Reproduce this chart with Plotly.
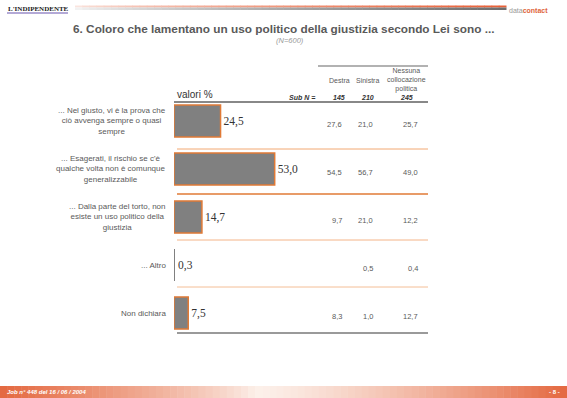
import plotly.graph_objects as go

W, H = 567, 398

# ---------------- data ----------------
categories = [
    "... Nel giusto, vi è la prova che<br>ciò avvenga sempre o quasi<br>sempre",
    "... Esagerati, il rischio se c'è<br>qualche volta non è comunque<br>generalizzabile",
    "... Dalla parte del torto, non<br>esiste un uso politico della<br>giustizia",
    "... Altro",
    "Non dichiara",
]
totale = [24.5, 53.0, 14.7, 0.3, 7.5]
destra = [27.6, 54.5, 9.7, None, 8.3]
sinistra = [21.0, 56.7, 21.0, 0.5, 1.0]
nessuna = [25.7, 49.0, 12.2, 0.4, 12.7]
sub_n = [145, 210, 245]
column_labels = ["Destra", "Sinistra", "Nessuna<br>collocazione<br>politica"]

title = "6. Coloro che lamentano un uso politico della giustizia secondo Lei sono ..."
subtitle = "(N=600)"
footer_left = "Job n° 448 del 16 / 06 / 2004"
footer_right = "- 8 -"


def fmt(v):
    return "" if v is None else f"{v:.1f}".replace(".", ",")


def X(px):
    return px / W


def Y(py):
    return 1 - py / H


SANS = "Liberation Sans, Arial, sans-serif"
SERIF = "Liberation Serif, Times New Roman, serif"

rows = list(range(len(categories)))
# outline only where the bar is wide enough to show it
outline_w = [1.5 if v >= 1 else 0 for v in totale]

fig = go.Figure()
fig.add_trace(go.Bar(
    x=totale, y=rows, orientation="h",
    marker=dict(color="#808080", line=dict(color="#E07A36", width=outline_w)),
    width=0.67,
    text=[fmt(v) for v in totale], textposition="outside",
    textfont=dict(family=SERIF, size=11.5, color="#333333"),
    constraintext="none", cliponaxis=False, hoverinfo="skip",
))

fig.update_layout(
    width=W, height=H, autosize=False,
    margin=dict(l=0, r=0, t=0, b=0),
    paper_bgcolor="white", plot_bgcolor="rgba(0,0,0,0)",
    showlegend=False,
    xaxis=dict(domain=[X(174), X(428)], range=[0, 254 / 1.9], visible=False, fixedrange=True),
    yaxis=dict(domain=[Y(337), Y(97)], range=[len(rows) - 0.5, -0.5], visible=False, fixedrange=True),
)

ann = []
shapes = []

# category labels
for i, c in enumerate(categories):
    ann.append(dict(x=X(168), y=i, xref="paper", yref="y", text=c, showarrow=False,
                    xanchor="right", yanchor="middle", align="center",
                    font=dict(family=SANS, size=8, color="#5A5A5A")))

# table values
cols = [(destra, 344), (sinistra, 375), (nessuna, 420)]
for series, xr in cols:
    for i, v in enumerate(series):
        if v is None:
            continue
        ann.append(dict(x=X(xr), y=i, xref="paper", yref="y", text=fmt(v), showarrow=False,
                        xanchor="right", yanchor="middle", yshift=-3,
                        font=dict(family=SANS, size=7.5, color="#5A5A5A")))

# column headers
hdr_x = [339, 367, 406]
for lbl, xc in zip(column_labels, hdr_x):
    ann.append(dict(x=X(xc), y=Y(80), xref="paper", yref="paper", text=lbl, showarrow=False,
                    xanchor="center", yanchor="middle", align="center",
                    font=dict(family=SANS, size=7, color="#5A5A5A")))
for n, xc in zip(sub_n, hdr_x):
    ann.append(dict(x=X(xc), y=Y(97), xref="paper", yref="paper", text=f"<b><i>{n}</i></b>",
                    showarrow=False, xanchor="center", yanchor="middle",
                    font=dict(family=SANS, size=7, color="#333333")))
ann.append(dict(x=X(317), y=Y(97), xref="paper", yref="paper", text="<b><i>Sub N =</i></b>",
                showarrow=False, xanchor="right", yanchor="middle",
                font=dict(family=SANS, size=7, color="#333333")))
ann.append(dict(x=X(175), y=Y(95), xref="paper", yref="paper", text="valori %",
                showarrow=False, xanchor="left", yanchor="middle",
                font=dict(family=SANS, size=10, color="#333333")))

# title
ann.append(dict(x=X(283), y=Y(29), xref="paper", yref="paper", text=f"<b>{title}</b>",
                showarrow=False, xanchor="center", yanchor="middle",
                font=dict(family=SANS, size=11.8, color="#595959")))
ann.append(dict(x=X(290), y=Y(40), xref="paper", yref="paper", text=f"<i>{subtitle}</i>",
                showarrow=False, xanchor="center", yanchor="middle",
                font=dict(family=SANS, size=7.5, color="#999999")))

# logo + brand
ann.append(dict(x=X(6), y=Y(9), xref="paper", yref="paper", text="<b>L'INDIPENDENTE</b>",
                showarrow=False, xanchor="left", yanchor="middle",
                font=dict(family=SERIF, size=7, color="#222222")))
ann.append(dict(x=X(507), y=Y(10), xref="paper", yref="paper",
                text="<span style='color:#999999'>data</span><b><span style='color:#E0643A'>contact</span></b>",
                showarrow=False, xanchor="left", yanchor="middle",
                font=dict(family=SANS, size=7, color="#999999")))

# footer texts
ann.append(dict(x=X(5), y=Y(392), xref="paper", yref="paper", text=f"<b><i>{footer_left}</i></b>",
                showarrow=False, xanchor="left", yanchor="middle",
                font=dict(family=SANS, size=6, color="#FFFFFF")))
ann.append(dict(x=X(562), y=Y(392), xref="paper", yref="paper", text=f"<b>{footer_right}</b>",
                showarrow=False, xanchor="right", yanchor="middle",
                font=dict(family=SANS, size=6, color="#FFFFFF")))


def hline(y, x0, x1, color, width):
    shapes.append(dict(type="line", xref="paper", yref="paper", x0=X(x0), x1=X(x1),
                       y0=Y(y), y1=Y(y), line=dict(color=color, width=width)))


# table lines
hline(66, 318, 428, "#999999", 1.5)
hline(102, 174, 428, "#888888", 2)
hline(149, 177, 428, "#F2A872", 1)
hline(194, 177, 428, "#E07A36", 1.5)
hline(240, 177, 428, "#F4B488", 1)
hline(287, 177, 428, "#F4BE96", 1)
hline(333, 177, 428, "#9A9A9A", 2)

# logo underline
hline(13, 7, 68, "#9A8CC8", 1.5)


def mix(c1, c2, t):
    return "#%02X%02X%02X" % tuple(int(round(a + (b - a) * t)) for a, b in zip(c1, c2))


# header gradient line
N = 60
x0, x1 = 75, 506
for k in range(N):
    t = k / (N - 1)
    xa = x0 + (x1 - x0) * k / N
    xb = x0 + (x1 - x0) * (k + 1) / N + 0.5
    shapes.append(dict(type="rect", xref="paper", yref="paper", x0=X(xa), x1=X(xb),
                       y0=Y(7.5), y1=Y(5.5), line=dict(width=0),
                       fillcolor=mix((250, 228, 222), (232, 96, 56), t ** 0.7)))
    shapes.append(dict(type="rect", xref="paper", yref="paper", x0=X(xa), x1=X(xb),
                       y0=Y(10), y1=Y(7.5), line=dict(width=0),
                       fillcolor=mix((242, 242, 242), (110, 110, 110), t ** 0.8)))

# footer gradient band
N2 = 80
for k in range(N2):
    t = (k + 0.5) / N2
    if t < 0.45:
        s = (1 - t / 0.45) ** 0.8
    else:
        s = ((t - 0.45) / 0.55) ** 1.3
    shapes.append(dict(type="rect", xref="paper", yref="paper",
                       x0=X(W * k / N2), x1=X(W * (k + 1) / N2 + 0.5),
                       y0=Y(398), y1=Y(386), line=dict(width=0),
                       fillcolor=mix((252, 240, 234), (228, 104, 64), s)))

fig.update_layout(annotations=ann, shapes=shapes)
fig.write_html(
    "out.html",
    config={"displayModeBar": False},
    post_script="document.body.style.margin='0';document.body.style.padding='0';document.body.style.overflow='hidden';",
)
